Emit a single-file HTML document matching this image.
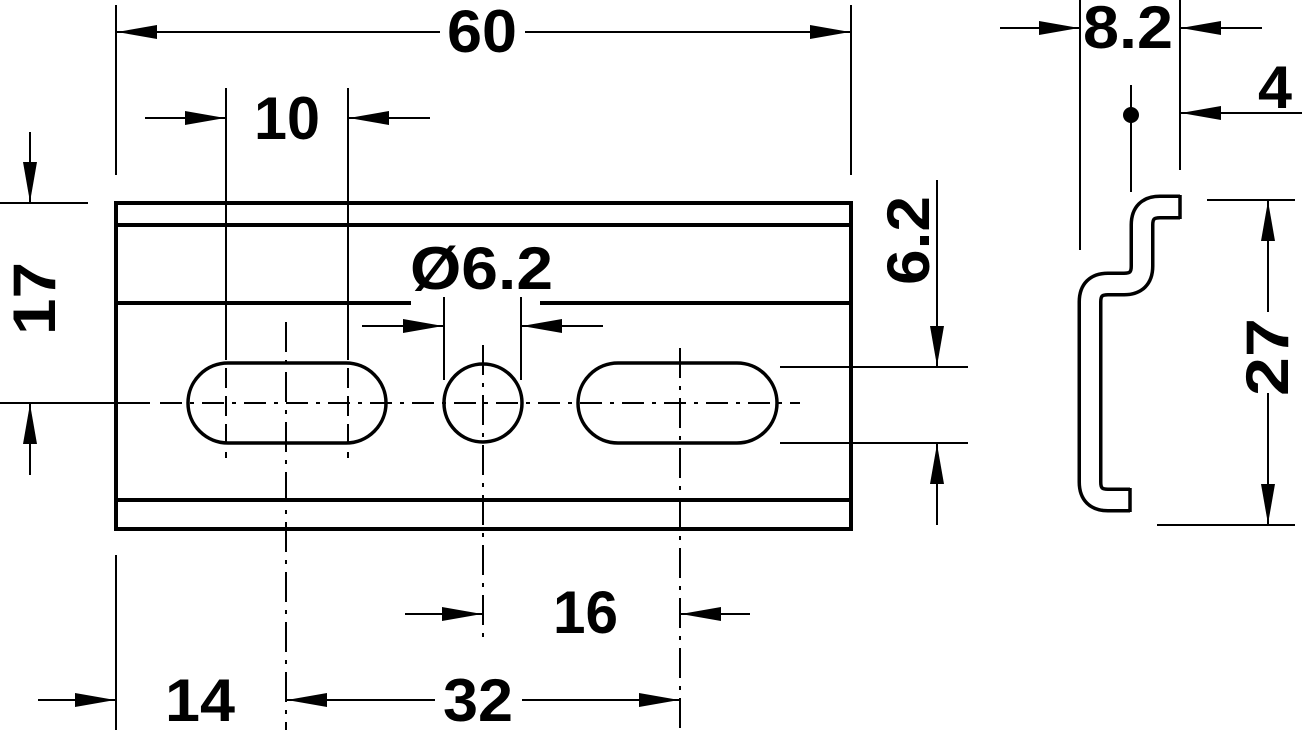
<!DOCTYPE html>
<html><head><meta charset="utf-8"><style>
html,body{margin:0;padding:0;background:#fff;}
svg{display:block;}
text{font-family:"Liberation Sans",sans-serif;font-weight:bold;font-size:60px;fill:#000;}
</style></head><body>
<svg width="1302" height="730" viewBox="0 0 1302 730" xmlns="http://www.w3.org/2000/svg">
<defs>
<marker id="a" viewBox="0 0 40 14" refX="40" refY="7" markerWidth="40" markerHeight="14" markerUnits="userSpaceOnUse" orient="auto">
<path d="M0,0 L40,7 L0,14 Z" fill="#000"/></marker>
</defs>
<g stroke="#000" fill="none">
<rect x="116" y="203" width="735" height="326" stroke-width="4"/>
<line x1="116" y1="225" x2="851" y2="225" stroke-width="4"/>
<line x1="116" y1="303" x2="411" y2="303" stroke-width="4"/>
<line x1="540" y1="303" x2="851" y2="303" stroke-width="4"/>
<line x1="116" y1="500" x2="851" y2="500" stroke-width="4"/>
<rect x="188" y="363" width="198" height="80" rx="40" stroke-width="3.5"/>
<circle cx="483" cy="403" r="39" stroke-width="3.5"/>
<rect x="578" y="363" width="199" height="80" rx="40" stroke-width="3.5"/>
<line x1="0" y1="403" x2="150" y2="403" stroke-width="2"/>
<line x1="160" y1="403" x2="800" y2="403" stroke-width="2" stroke-dasharray="22,8,4,8"/>
<line x1="286" y1="322" x2="286" y2="730" stroke-width="2" stroke-dasharray="30,8,4,8"/>
<line x1="483" y1="345" x2="483" y2="640" stroke-width="2" stroke-dasharray="30,8,4,8"/>
<line x1="680" y1="348" x2="680" y2="730" stroke-width="2" stroke-dasharray="30,8,4,8"/>
<line x1="226" y1="88" x2="226" y2="340" stroke-width="2"/>
<line x1="226" y1="340" x2="226" y2="458" stroke-width="2" stroke-dasharray="20,8"/>
<line x1="348" y1="88" x2="348" y2="340" stroke-width="2"/>
<line x1="348" y1="340" x2="348" y2="458" stroke-width="2" stroke-dasharray="20,8"/>
<line x1="116" y1="5" x2="116" y2="175" stroke-width="2"/>
<line x1="851" y1="5" x2="851" y2="175" stroke-width="2"/>
<line x1="440" y1="32" x2="117" y2="32" stroke-width="2" marker-end="url(#a)"/>
<line x1="525" y1="32" x2="850" y2="32" stroke-width="2" marker-end="url(#a)"/>
<line x1="145" y1="118" x2="225" y2="118" stroke-width="2" marker-end="url(#a)"/>
<line x1="430" y1="118" x2="349" y2="118" stroke-width="2" marker-end="url(#a)"/>
<line x1="0" y1="203" x2="88" y2="203" stroke-width="2"/>
<line x1="30" y1="132" x2="30" y2="202" stroke-width="2" marker-end="url(#a)"/>
<line x1="30" y1="475" x2="30" y2="404" stroke-width="2" marker-end="url(#a)"/>
<line x1="444" y1="297" x2="444" y2="380" stroke-width="2"/>
<line x1="521" y1="297" x2="521" y2="380" stroke-width="2"/>
<line x1="362" y1="326" x2="443" y2="326" stroke-width="2" marker-end="url(#a)"/>
<line x1="603" y1="326" x2="522" y2="326" stroke-width="2" marker-end="url(#a)"/>
<line x1="780" y1="367" x2="968" y2="367" stroke-width="2"/>
<line x1="780" y1="443" x2="968" y2="443" stroke-width="2"/>
<line x1="937" y1="180" x2="937" y2="366" stroke-width="2" marker-end="url(#a)"/>
<line x1="937" y1="525" x2="937" y2="444" stroke-width="2" marker-end="url(#a)"/>
<line x1="405" y1="614" x2="482" y2="614" stroke-width="2" marker-end="url(#a)"/>
<line x1="750" y1="614" x2="681" y2="614" stroke-width="2" marker-end="url(#a)"/>
<line x1="116" y1="555" x2="116" y2="730" stroke-width="2"/>
<line x1="38" y1="700" x2="115" y2="700" stroke-width="2" marker-end="url(#a)"/>
<line x1="435" y1="700" x2="287" y2="700" stroke-width="2" marker-end="url(#a)"/>
<line x1="522" y1="700" x2="679" y2="700" stroke-width="2" marker-end="url(#a)"/>
<line x1="1080" y1="0" x2="1080" y2="250" stroke-width="2"/>
<line x1="1180" y1="0" x2="1180" y2="170" stroke-width="2"/>
<line x1="1000" y1="28" x2="1079" y2="28" stroke-width="2" marker-end="url(#a)"/>
<line x1="1262" y1="28" x2="1181" y2="28" stroke-width="2" marker-end="url(#a)"/>
<line x1="1302" y1="113" x2="1181" y2="113" stroke-width="2" marker-end="url(#a)"/>
<line x1="1131" y1="85" x2="1131" y2="192" stroke-width="2"/>
<path d="M1180,207 L1160,207 Q1142,207 1142,225 L1142,266 Q1142,284 1124,284 L1108,284 Q1090,284 1090,302 L1090,482 Q1090,500 1108,500 L1130,500" stroke-width="25" stroke-linejoin="round"/>
<path d="M1182,207 L1160,207 Q1142,207 1142,225 L1142,266 Q1142,284 1124,284 L1108,284 Q1090,284 1090,302 L1090,482 Q1090,500 1108,500 L1132,500" stroke="#fff" stroke-width="18" stroke-linejoin="round"/>
<line x1="1180" y1="195" x2="1180" y2="219" stroke-width="3.5"/>
<line x1="1130" y1="488" x2="1130" y2="512" stroke-width="3.5"/>
<line x1="1207" y1="200" x2="1295" y2="200" stroke-width="2"/>
<line x1="1157" y1="525" x2="1295" y2="525" stroke-width="2"/>
<line x1="1268" y1="312" x2="1268" y2="201" stroke-width="2" marker-end="url(#a)"/>
<line x1="1268" y1="393" x2="1268" y2="524" stroke-width="2" marker-end="url(#a)"/>
</g>
<circle cx="1131" cy="115" r="8" fill="#000"/>
<text x="447" y="52" textLength="70" lengthAdjust="spacingAndGlyphs">60</text>
<text x="254" y="139" textLength="66" lengthAdjust="spacingAndGlyphs">10</text>
<text x="410" y="289" textLength="143" lengthAdjust="spacingAndGlyphs">Ø6.2</text>
<text x="553" y="633" textLength="65" lengthAdjust="spacingAndGlyphs">16</text>
<text x="165" y="721" textLength="70" lengthAdjust="spacingAndGlyphs">14</text>
<text x="443" y="721" textLength="70" lengthAdjust="spacingAndGlyphs">32</text>
<text x="1083" y="48" textLength="90" lengthAdjust="spacingAndGlyphs">8.2</text>
<text x="1258" y="108" textLength="34" lengthAdjust="spacingAndGlyphs">4</text>
<text transform="translate(55,335) rotate(-90)" textLength="73" lengthAdjust="spacingAndGlyphs">17</text>
<text transform="translate(929,285) rotate(-90)" textLength="89" lengthAdjust="spacingAndGlyphs">6.2</text>
<text transform="translate(1288,396) rotate(-90)" textLength="78" lengthAdjust="spacingAndGlyphs">27</text>
</svg>
</body></html>
